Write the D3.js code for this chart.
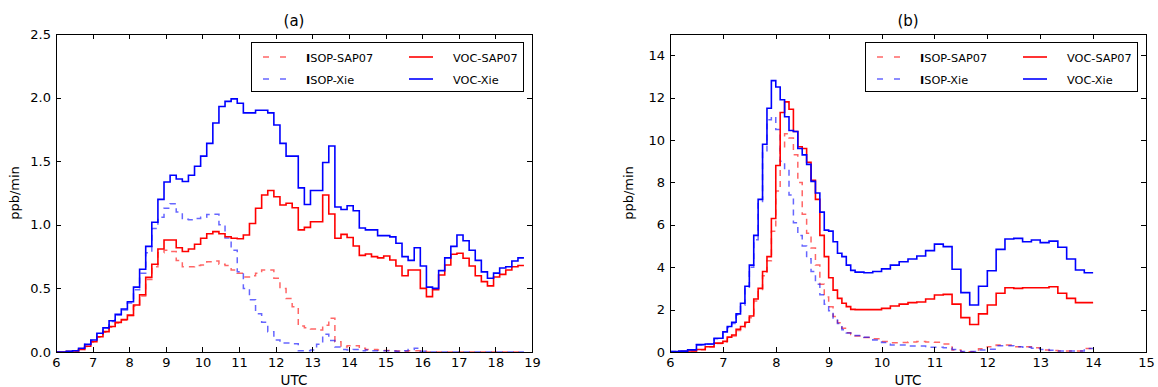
<!DOCTYPE html>
<html lang="en">
<head>
<meta charset="utf-8">
<title>Isoprene / VOC emission rates</title>
<script src="https://cdn.jsdelivr.net/npm/d3@7"></script>
<style>
  body { margin: 0; background: #fff; }
  svg text { font-family: "DejaVu Sans", sans-serif; fill: #000; }
  .axis path, .axis line { stroke: #000; shape-rendering: crispEdges; }
  .axis text { font-size: 13px; }
</style>
</head>
<body>
<div id="svg-area"></div>
<script>
const svg_width = 1158;
const svg_height = 387;

const seriesNames = ['ISOP-SAP07', 'ISOP-Xie', 'VOC-SAP07', 'VOC-Xie'];

// ---- panel (a): 10-minute bins, first bin starts at 5.95 UTC, last ends at 18.78
const binStartA = 5.95;
const binEndA = 18.78;
const isopSapA = [0.0, 0.0, 0.003, 0.008, 0.02, 0.043, 0.078, 0.115, 0.155, 0.195,
  0.228, 0.25, 0.285, 0.36, 0.44, 0.57, 0.67, 0.78, 0.80, 0.79,
  0.72, 0.67, 0.67, 0.68, 0.684, 0.71, 0.715, 0.69, 0.68, 0.645,
  0.62, 0.59, 0.60, 0.62, 0.645, 0.645, 0.58, 0.50, 0.42, 0.356,
  0.204, 0.19, 0.18, 0.173, 0.21, 0.265, 0.08, 0.04, 0.05, 0.05,
  0.03, 0.02, 0.02, 0.015, 0.012, 0.01, 0.008, 0.005, 0.01, 0.01,
  0.005, 0, 0, 0, 0, 0, 0, 0, 0, 0,
  0, 0, 0, 0, 0, 0, 0];
const isopXieA = [0.0, 0.0, 0.003, 0.01, 0.03, 0.06, 0.09, 0.14, 0.185, 0.24,
  0.29, 0.33, 0.385, 0.49, 0.62, 0.78, 0.97, 1.06, 1.13, 1.166,
  1.10, 1.043, 1.04, 1.05, 1.06, 1.08, 1.083, 1.0, 0.896, 0.80,
  0.63, 0.50, 0.41, 0.30, 0.233, 0.16, 0.095, 0.07, 0.07, 0.065,
  0.01, 0.01, 0.015, 0.06, 0.14, 0.09, 0.04, 0.02, 0.015, 0.02,
  0.01, 0.015, 0.01, 0.01, 0.01, 0.008, 0.005, 0.01, 0.02, 0.03,
  0.005, 0, 0, 0, 0, 0, 0, 0, 0, 0,
  0, 0, 0, 0, 0, 0, 0];
const vocSapA = [0.0, 0.0, 0.003, 0.008, 0.02, 0.045, 0.08, 0.12, 0.16, 0.2,
  0.233, 0.255, 0.29, 0.37, 0.45, 0.587, 0.69, 0.81, 0.88, 0.88,
  0.82, 0.79, 0.81, 0.847, 0.894, 0.93, 0.946, 0.93, 0.906, 0.894,
  0.89, 0.92, 1.01, 1.13, 1.234, 1.27, 1.22, 1.156, 1.17, 1.134,
  0.96, 0.98, 1.024, 1.024, 1.234, 1.085, 0.894, 0.925, 0.90, 0.833,
  0.76, 0.77, 0.75, 0.74, 0.755, 0.723, 0.676, 0.60, 0.645, 0.645,
  0.50, 0.435, 0.49, 0.605, 0.684, 0.768, 0.776, 0.737, 0.676, 0.60,
  0.553, 0.52, 0.59, 0.61, 0.645, 0.67, 0.68];
const vocXieA = [0.0, 0.0, 0.005, 0.01, 0.03, 0.06, 0.094, 0.147, 0.19, 0.246,
  0.296, 0.338, 0.395, 0.51, 0.65, 0.83, 1.02, 1.20, 1.336, 1.39,
  1.36, 1.34, 1.39, 1.46, 1.54, 1.64, 1.80, 1.93, 1.97, 1.99,
  1.955, 1.88, 1.88, 1.90, 1.90, 1.88, 1.785, 1.64, 1.54, 1.54,
  1.29, 1.16, 1.27, 1.27, 1.49, 1.62, 1.14, 1.12, 1.15, 1.11,
  0.975, 0.96, 0.96, 0.915, 0.915, 0.905, 0.855, 0.75, 0.72, 0.82,
  0.676, 0.51, 0.50, 0.64, 0.74, 0.83, 0.92, 0.875, 0.80, 0.72,
  0.63, 0.58, 0.62, 0.66, 0.67, 0.715, 0.74];

// ---- panel (b): 10-min bins 6-7 UTC, 5-min bins 7-9.5 UTC, 10-min bins 9.5-14 UTC
const binEndB = 14.0;
const isopSapB = [0.01, 0.02, 0.05, 0.11, 0.23, 0.4,
  0.48, 0.66, 0.76, 1.02, 1.15, 1.35, 1.62, 2.4, 2.9, 3.6,
  4.3, 5.7, 7.6, 9.6, 10.3, 10.1, 9.3, 8.0, 6.5, 5.6,
  4.9, 4.1, 3.2, 2.6, 2.14, 1.67, 1.38, 1.12, 0.91, 0.82,
  0.76, 0.68, 0.62, 0.49, 0.44, 0.45, 0.47, 0.49, 0.47, 0.46,
  0.38, 0.1, 0.01, 0.01, 0.15, 0.25, 0.33, 0.33, 0.25, 0.25,
  0.2, 0.1, 0.07, 0.05, 0.05, 0.05, 0.16];
const isopXieB = [0.02, 0.04, 0.1, 0.33, 0.36, 0.62,
  0.9, 1.15, 1.35, 1.75, 2.2, 3.0, 4.0, 5.3, 7.0, 9.4,
  10.95, 11.1, 10.5, 9.0, 8.6, 7.4, 6.1, 5.5, 5.0, 4.4,
  3.8, 3.2, 2.7, 2.25, 1.95, 1.6, 1.35, 1.05, 0.9, 0.82,
  0.78, 0.7, 0.57, 0.45, 0.33, 0.33, 0.28, 0.28, 0.22, 0.22,
  0.2, 0.12, 0.02, 0.02, 0.1, 0.13, 0.3, 0.3, 0.25, 0.22,
  0.18, 0.12, 0.08, 0.05, 0.05, 0.05, 0.16];
const vocSapB = [0.01, 0.02, 0.05, 0.12, 0.25, 0.42,
  0.5, 0.7, 0.8, 1.07, 1.2, 1.4, 1.7, 2.5, 3.0, 3.8,
  4.5, 6.3, 8.8, 11.3, 11.8, 11.45, 10.4, 9.68, 9.6, 8.95,
  8.1, 7.2, 5.5, 4.5, 3.5, 2.92, 2.53, 2.3, 2.14, 2.01,
  2.0, 2.0, 2.0, 2.06, 2.17, 2.26, 2.33, 2.36, 2.50, 2.69,
  2.72, 2.26, 1.62, 1.30, 1.8, 2.22, 2.77, 3.03, 3.0, 3.03,
  3.03, 3.03, 3.08, 2.77, 2.53, 2.33, 2.33];
const vocXieB = [0.02, 0.04, 0.1, 0.35, 0.38, 0.65,
  0.95, 1.2, 1.4, 1.8, 2.3, 3.1, 4.1, 5.5, 7.2, 9.8,
  11.5, 12.8, 12.5, 11.9, 11.1, 10.45, 10.4, 9.6, 9.3, 8.85,
  8.05, 7.5, 6.6, 5.75, 5.7, 5.2, 4.66, 4.5, 4.1, 3.85,
  3.77, 3.74, 3.8, 3.92, 4.10, 4.26, 4.39, 4.53, 4.78, 5.09,
  4.97, 3.90, 2.80, 2.22, 3.1, 3.83, 4.84, 5.33, 5.36, 5.2,
  5.28, 5.16, 5.23, 4.94, 4.39, 3.87, 3.74];

const timesA = d3.range(vocXieA.length).map(i => binStartA + i / 6);
const timesB = [].concat(
  d3.range(6).map(i => 6 + i / 6),
  d3.range(30).map(i => 7 + i / 12),
  d3.range(27).map(i => 9.5 + i / 6));

const xTicksA = d3.range(6, 20);
const yTicksA = [0, 0.5, 1.0, 1.5, 2.0, 2.5];
const xTicksB = d3.range(6, 16);
const yTicksB = [0, 2, 4, 6, 8, 10, 12, 14];

// line styles, same order as seriesNames
const styles = [
  {color: '#ff0000', dash: '6,5', width: 1.5, opacity: 0.6},
  {color: '#0000ff', dash: '6,5', width: 1.5, opacity: 0.6},
  {color: '#ff0000', dash: null, width: 1.6, opacity: 1},
  {color: '#0000ff', dash: null, width: 1.6, opacity: 1}
];

const svg = d3.select('#svg-area')
  .append('svg')
  .attr('width', svg_width)
  .attr('height', svg_height)
  .style('display', 'block');

svg.append('rect').attr('width', svg_width).attr('height', svg_height).attr('fill', '#fff');

function drawPanel(cfg) {
  const x = d3.scaleLinear().domain(cfg.xDomain).range([cfg.left, cfg.right]);
  const y = d3.scaleLinear().domain(cfg.yDomain).range([352, 34]);
  const g = svg.append('g');

  const clipId = 'clip-' + cfg.id;
  g.append('clipPath').attr('id', clipId)
    .append('rect')
    .attr('x', cfg.left).attr('y', 34)
    .attr('width', cfg.right - cfg.left).attr('height', 318);

  //step lines
  const line = d3.line()
    .x(d => x(d[0]))
    .y(d => y(d[1]))
    .curve(d3.curveStepAfter);

  cfg.series.forEach((vals, k) => {
    const pts = vals.map((v, i) => [cfg.times[i], v]);
    pts.push([cfg.end, vals[vals.length - 1]]);
    const st = styles[k];
    g.append('path')
      .attr('clip-path', `url(#${clipId})`)
      .attr('d', line(pts))
      .attr('fill', 'none')
      .attr('stroke', st.color)
      .attr('stroke-width', st.width)
      .attr('stroke-opacity', st.opacity)
      .attr('stroke-dasharray', st.dash);
  });

  //axes, ticks pointing inward on all four sides
  g.append('g').attr('class', 'axis')
    .attr('transform', 'translate(0,352)')
    .call(d3.axisBottom(x).tickValues(cfg.xTicks).tickSizeInner(-5).tickSizeOuter(0)
      .tickPadding(6).tickFormat(d3.format('d')));
  g.append('g').attr('class', 'axis')
    .attr('transform', 'translate(0,34)')
    .call(d3.axisTop(x).tickValues(cfg.xTicks).tickSizeInner(-5).tickSizeOuter(0).tickFormat(''));
  g.append('g').attr('class', 'axis')
    .attr('transform', `translate(${cfg.left},0)`)
    .call(d3.axisLeft(y).tickValues(cfg.yTicks).tickSizeInner(-5).tickSizeOuter(0)
      .tickPadding(5).tickFormat(cfg.yFormat));
  g.append('g').attr('class', 'axis')
    .attr('transform', `translate(${cfg.right},0)`)
    .call(d3.axisRight(y).tickValues(cfg.yTicks).tickSizeInner(-5).tickSizeOuter(0).tickFormat(''));

  const cx = (cfg.left + cfg.right) / 2;
  g.append('text').attr('x', cx).attr('y', 26)
    .attr('text-anchor', 'middle').style('font-size', '15px').text(cfg.title);
  g.append('text').attr('x', cx).attr('y', 385)
    .attr('text-anchor', 'middle').style('font-size', '13.5px').text('UTC');
  g.append('text')
    .attr('transform', `translate(${cfg.left - 37},193) rotate(-90)`)
    .attr('text-anchor', 'middle').style('font-size', '13px').text('ppb/min');

  //legend
  const lx = cfg.right - 281;
  const leg = g.append('g').attr('transform', `translate(${lx},42)`);
  leg.append('rect')
    .attr('x', 0.5).attr('y', 0.5).attr('width', 272).attr('height', 49)
    .attr('fill', '#fff').attr('stroke', '#000').attr('stroke-width', 1)
    .attr('shape-rendering', 'crispEdges');
  seriesNames.forEach((name, k) => {
    const col = Math.floor(k / 2), row = k % 2;
    const x0 = 12 + col * 146;
    const yy = 15 + row * 22;
    const st = styles[k];
    leg.append('line')
      .attr('x1', x0).attr('x2', x0 + 24).attr('y1', yy).attr('y2', yy)
      .attr('stroke', st.color).attr('stroke-width', st.width)
      .attr('stroke-opacity', st.opacity)
      .attr('stroke-dasharray', st.dash ? '6,11' : null);
    const t = leg.append('text')
      .attr('x', x0 + 43 + (col ? 1 : 0)).attr('y', yy + 4.5)
      .style('font-size', '11.3px');
    if (col === 0) {
      t.append('tspan').style('font-weight', 'bold').text(name.charAt(0));
      t.append('tspan').text(name.slice(1));
    } else {
      t.text(name);
    }
  });
}

drawPanel({
  id: 'a', title: '(a)', left: 56, right: 532,
  xDomain: [6, 19], yDomain: [0, 2.5],
  xTicks: xTicksA, yTicks: yTicksA, yFormat: d3.format('.1f'),
  times: timesA, end: binEndA,
  series: [isopSapA, isopXieA, vocSapA, vocXieA]
});

drawPanel({
  id: 'b', title: '(b)', left: 670, right: 1146,
  xDomain: [6, 15], yDomain: [0, 15],
  xTicks: xTicksB, yTicks: yTicksB, yFormat: d3.format('d'),
  times: timesB, end: binEndB,
  series: [isopSapB, isopXieB, vocSapB, vocXieB]
});
</script>
</body>
</html>
